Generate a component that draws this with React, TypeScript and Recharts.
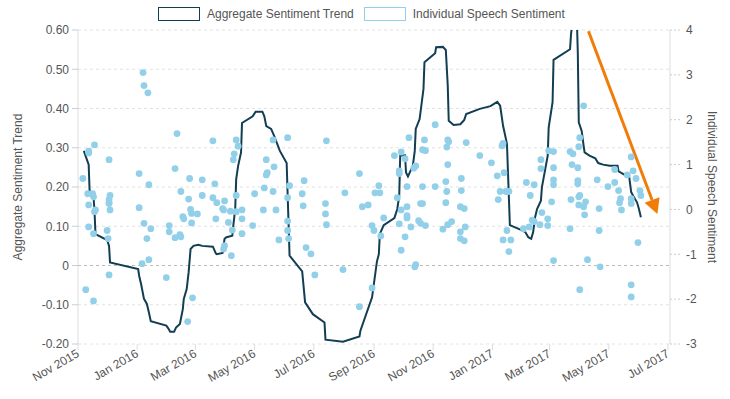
import React from "react";
import { ComposedChart, Line, Scatter, XAxis, YAxis, CartesianGrid, ReferenceLine } from "recharts";

// aggregate trend (left axis)
const trendDates = [
  "2015-11-07", "2015-11-12", "2015-11-13", "2015-11-14", "2015-11-17", "2015-11-18", "2015-11-19", "2015-12-01",
  "2015-12-03", "2015-12-04", "2016-01-02", "2016-01-03", "2016-01-05", "2016-01-08", "2016-01-11", "2016-01-13",
  "2016-01-15", "2016-01-31", "2016-02-02", "2016-02-04", "2016-02-08", "2016-02-10", "2016-02-14", "2016-02-17",
  "2016-02-18", "2016-02-21", "2016-02-23", "2016-02-25", "2016-02-28", "2016-03-04", "2016-03-08", "2016-03-19",
  "2016-03-22", "2016-03-23", "2016-03-29", "2016-03-31", "2016-04-02", "2016-04-08", "2016-04-09", "2016-04-11",
  "2016-04-12", "2016-04-14", "2016-04-17", "2016-04-18", "2016-04-29", "2016-05-02", "2016-05-09", "2016-05-11",
  "2016-05-13", "2016-05-18", "2016-05-21", "2016-05-27", "2016-06-03", "2016-06-06", "2016-06-19", "2016-06-22",
  "2016-06-30", "2016-07-12", "2016-07-13", "2016-07-31", "2016-08-17", "2016-08-18", "2016-08-30", "2016-09-04",
  "2016-09-06", "2016-09-07", "2016-09-11", "2016-09-22", "2016-09-25", "2016-09-27", "2016-09-28", "2016-10-03",
  "2016-10-04", "2016-10-06", "2016-10-11", "2016-10-13", "2016-10-14", "2016-10-18", "2016-10-22", "2016-10-23",
  "2016-11-03", "2016-11-04", "2016-11-11", "2016-11-14", "2016-11-16", "2016-11-17", "2016-11-22", "2016-11-29",
  "2016-12-03", "2016-12-05", "2016-12-19", "2016-12-30", "2017-01-06", "2017-01-09", "2017-01-12", "2017-01-16",
  "2017-01-19", "2017-01-31", "2017-02-04", "2017-02-07", "2017-02-10", "2017-02-12", "2017-02-14", "2017-02-16",
  "2017-02-20", "2017-02-21", "2017-02-27", "2017-02-28", "2017-03-04", "2017-03-05", "2017-03-22", "2017-03-23",
  "2017-03-25", "2017-03-29", "2017-03-30", "2017-03-31", "2017-04-03", "2017-04-05", "2017-04-06", "2017-04-11",
  "2017-04-17", "2017-04-20", "2017-04-25", "2017-05-02", "2017-05-10", "2017-05-11", "2017-05-16", "2017-05-22",
  "2017-05-24", "2017-05-26", "2017-05-30", "2017-06-01", "2017-06-03",
];
const trendValues = [
  0.292, 0.257, 0.187, 0.18, 0.174, 0.14, 0.08, 0.065,
  0.05, 0.008, -0.009, -0.026, -0.047, -0.085, -0.098, -0.119,
  -0.142, -0.153, -0.16, -0.169, -0.169, -0.158, -0.149, -0.111,
  -0.085, -0.06, -0.017, 0.042, 0.05, 0.053, 0.05, 0.048,
  0.031, 0.029, 0.032, 0.068, 0.072, 0.076, 0.101, 0.144,
  0.22, 0.254, 0.288, 0.363, 0.38, 0.392, 0.392, 0.38,
  0.355, 0.348, 0.331, 0.292, 0.261, 0.025, -0.015, -0.094,
  -0.124, -0.145, -0.189, -0.194, -0.181, -0.166, -0.081, 0.01,
  0.029, 0.08, 0.103, 0.121, 0.144, 0.178, 0.28, 0.281,
  0.237, 0.227, 0.254, 0.292, 0.348, 0.373, 0.45, 0.518,
  0.541, 0.556, 0.557, 0.549, 0.458, 0.369, 0.358, 0.36,
  0.371, 0.386, 0.399, 0.406, 0.417, 0.407, 0.356, 0.31,
  0.103, 0.09, 0.085, 0.072, 0.068, 0.085, 0.123, 0.144,
  0.165, 0.199, 0.28, 0.352, 0.416, 0.524, 0.551, 0.589,
  0.63, 0.63, 0.543, 0.365, 0.343, 0.305, 0.288, 0.28,
  0.273, 0.261, 0.257, 0.254, 0.254, 0.24, 0.233, 0.225,
  0.187, 0.178, 0.161, 0.144, 0.123,
];

// individual speeches (right axis)
const speechDates = [
  "2016-01-07", "2016-01-08", "2016-01-12", "2016-02-11", "2015-11-12", "2015-11-12", "2015-11-18", "2015-12-03",
  "2015-11-06", "2016-01-03", "2016-01-13", "2016-02-09", "2016-03-19", "2016-04-12", "2016-04-14", "2016-04-10",
  "2016-04-09", "2016-05-20", "2016-06-04", "2016-05-13", "2016-05-21", "2016-05-14", "2016-05-13", "2016-02-24",
  "2016-03-08", "2016-03-21", "2016-02-15", "2016-02-23", "2016-03-08", "2016-03-19", "2016-03-23", "2016-03-31",
  "2016-03-29", "2016-03-30", "2016-04-06", "2016-04-12", "2016-04-18", "2016-04-12", "2016-05-01", "2016-05-11",
  "2016-05-20", "2016-06-04", "2016-05-10", "2016-05-23", "2015-11-11", "2015-11-16", "2015-11-17", "2015-11-12",
  "2015-11-19", "2015-11-18", "2015-12-04", "2015-12-03", "2015-12-03", "2015-12-03", "2015-12-04", "2016-01-03",
  "2015-11-12", "2015-11-17", "2015-12-01", "2015-12-02", "2016-01-08", "2016-01-15", "2016-01-11", "2016-02-03",
  "2016-02-03", "2016-02-09", "2016-02-14", "2016-02-15", "2016-02-17", "2016-02-18", "2016-02-25", "2016-02-26",
  "2016-02-26", "2016-03-03", "2016-03-22", "2016-04-04", "2016-04-08", "2016-04-18", "2016-04-18", "2016-04-29",
  "2016-03-31", "2016-03-30", "2016-04-07", "2016-05-26", "2016-06-04", "2016-06-05", "2016-01-06", "2016-01-13",
  "2015-12-03", "2016-01-31", "2015-11-09", "2015-11-17", "2016-02-27", "2016-02-22", "2016-06-06", "2016-06-04",
  "2016-07-14", "2016-06-21", "2016-06-19", "2016-06-20", "2016-06-23", "2016-06-28", "2016-07-02", "2016-07-13",
  "2016-07-13", "2016-07-14", "2016-07-31", "2016-08-02", "2016-08-17", "2016-08-20", "2016-08-26", "2016-08-17",
  "2016-08-30", "2016-09-01", "2016-09-02", "2016-09-06", "2016-09-07", "2016-08-30", "2016-09-08", "2016-09-11",
  "2016-09-22", "2016-09-29", "2016-09-27", "2016-09-27", "2016-09-25", "2016-09-27", "2016-09-29", "2016-09-29",
  "2016-10-03", "2016-10-03", "2016-10-05", "2016-10-05", "2016-10-05", "2016-10-05", "2016-10-07", "2016-10-09",
  "2016-10-12", "2016-10-14", "2016-10-13", "2016-10-14", "2016-10-17", "2016-10-19", "2016-10-24", "2016-10-19",
  "2016-10-21", "2016-10-21", "2016-10-21", "2016-10-24", "2016-10-23", "2016-11-03", "2016-11-03", "2016-11-11",
  "2016-11-14", "2016-11-15", "2016-11-14", "2016-11-16", "2016-11-15", "2016-11-16", "2016-11-17", "2016-11-16",
  "2016-11-20", "2016-11-29", "2016-11-29", "2016-12-03", "2016-12-04", "2016-11-29", "2016-12-03", "2016-11-30",
  "2016-11-30", "2016-12-05", "2016-12-19", "2016-12-31", "2017-01-06", "2017-01-13", "2017-01-11", "2017-01-12",
  "2017-01-09", "2017-01-07", "2017-01-15", "2017-01-18", "2017-01-16", "2017-01-12", "2017-01-20", "2017-01-18",
  "2017-02-02", "2017-02-08", "2017-02-05", "2017-02-13", "2017-02-09", "2017-02-11", "2017-02-13", "2017-02-19",
  "2017-02-21", "2017-02-27", "2017-02-27", "2017-02-20", "2017-02-20", "2017-02-28", "2017-03-05", "2017-03-05",
  "2017-03-05", "2017-03-05", "2017-03-03", "2017-03-05", "2017-03-22", "2017-03-25", "2017-03-24", "2017-03-30",
  "2017-03-31", "2017-04-01", "2017-04-05", "2017-03-30", "2017-03-30", "2017-03-23", "2017-04-01", "2017-03-31",
  "2017-03-31", "2017-04-05", "2017-04-07", "2017-04-06", "2017-03-22", "2017-04-09", "2017-04-01", "2017-04-19",
  "2017-04-21", "2017-04-21", "2017-04-22", "2017-04-30", "2017-05-07", "2017-05-07", "2017-05-11", "2017-05-13",
  "2017-05-12", "2017-05-14", "2017-05-20", "2017-05-24", "2017-05-26", "2017-05-29", "2017-06-02", "2017-06-03",
  "2017-05-24", "2017-05-24", "2017-05-31", "2017-05-24", "2017-05-24",
];
const speechScores = [
  3.05, 2.76, 2.6, 1.69, 1.3, 1.26, 1.44, 1.11,
  0.69, 0.8, 0.55, 0.91, 1.53, 1.55, 1.41, 1.24,
  1.11, 1.55, 1.6, 1.11, 0.95, 0.82, 0.77, 0.69,
  0.66, 0.57, 0.4, 0.23, 0.31, 0.26, 0.15, 0.19,
  0.02, -0.01, -0.04, -0.05, -0.01, 0.31, 0.35, 0.48,
  0.4, 0.26, -0.01, -0.01, 0.35, 0.35, 0.28, 0.1,
  -0.01, -0.05, 0.31, 0.22, 0.15, 0.13, -0.01, 0.04,
  -0.39, -0.54, -0.47, -0.65, -0.31, -0.43, -0.65, -0.36,
  -0.5, -0.63, -0.56, -0.61, -0.16, -0.21, 0.0, -0.09,
  -0.3, -0.1, -0.21, -0.29, -0.46, -0.21, -0.54, -0.36,
  -0.81, -0.88, -1.03, -0.68, -0.47, -0.65, -1.21, -1.12,
  -1.46, -1.52, -1.79, -2.04, -1.97, -2.5, 0.53, -0.26,
  1.53, 0.64, 0.35, 0.08, -0.85, -0.99, -1.46, 0.13,
  -0.1, -0.34, -1.34, 0.37, 0.8, 0.06, 0.1, -2.17,
  -0.36, -0.47, 0.37, 0.53, 0.37, -1.75, -0.59, -0.19,
  1.2, 1.28, 0.8, 0.86, 0.26, -0.32, -0.01, -0.91,
  -0.61, 1.13, 0.51, 0.06, -0.14, -0.19, 1.6, -0.39,
  0.92, 0.97, -1.28, -1.23, -0.25, -0.31, -0.36, 0.13,
  0.13, 0.51, 1.33, 1.31, 1.55, 1.89, 0.51, -0.44,
  0.15, 0.4, 0.62, 1.0, 1.39, 1.55, 1.51, -0.34,
  -0.27, -0.5, -0.65, -0.7, -0.39, 0.06, 0.02, 0.42,
  0.69, 1.49, 1.2, 1.04, 0.75, 0.82, 1.42, 1.47,
  0.4, 0.22, 0.4, 0.4, -0.47, -0.68, -0.68, -0.94,
  -0.43, -0.39, 0.6, 0.55, 0.31, -0.24, -0.27, -0.34,
  -0.07, -0.21, -0.36, 1.11, 0.91, 1.31, 1.29, 0.93,
  0.66, 0.55, 0.17, -1.14, 1.29, 1.24, 1.0, 0.93,
  1.4, 1.6, 2.31, 0.64, 0.57, 0.22, 0.31, 0.28,
  0.1, 0.06, 0.17, -0.12, -0.43, -1.12, -1.79, 0.66,
  0.02, -0.47, -1.28, 0.51, 0.6, 0.89, 0.42, 0.24,
  0.15, -0.01, 0.77, 1.17, 0.86, 0.69, 0.42, 0.31,
  0.24, 0.13, -0.74, -1.68, -1.95,
];

const xTickDates = [
  "2015-11-01", "2016-01-01", "2016-03-01", "2016-05-01", "2016-07-01", "2016-09-01",
  "2016-11-01", "2017-01-01", "2017-03-01", "2017-05-01", "2017-07-01",
];
const leftTicks = [-0.2, -0.1, 0, 0.1, 0.2, 0.3, 0.4, 0.5, 0.6];
const rightTicks = [-3, -2, -1, 0, 1, 2, 3, 4];
const MONTHS = ["Jan", "Feb", "Mar", "Apr", "May", "Jun", "Jul", "Aug", "Sep", "Oct", "Nov", "Dec"];

// orange annotation arrow (left axis units)
const arrowStart = { date: "2017-04-10", value: 0.597 };
const arrowEnd = { date: "2017-06-20", value: 0.131 };

const ts = (d: string) => new Date(d + "T00:00:00Z").getTime();

const trendData = trendDates.map((d, i) => ({ t: ts(d), v: trendValues[i] }));
const speechData = speechDates.map((d, i) => ({ t: ts(d), s: speechScores[i] }));
const xTicks = xTickDates.map(ts);

const FONT = '"Liberation Sans", Arial, Helvetica, sans-serif';
const NAVY = "#123e54";
const SKY = "#92d0ea";
const ORANGE = "#f07d0a";

function DateTick(props: any) {
  const { x, y, payload } = props;
  const d = new Date(payload.value);
  const label = `${MONTHS[d.getUTCMonth()]} ${d.getUTCFullYear()}`;
  const ax = x + 2;
  const ay = y + 4;
  return (
    <text x={ax} y={ay} transform={`rotate(-30, ${ax}, ${ay})`} textAnchor="end" fill="#555" fontSize={12} fontFamily={FONT}>
      {label}
    </text>
  );
}

function Arrow(props: any) {
  const { x1, y1, x2, y2 } = props;
  if ([x1, y1, x2, y2].some((v) => typeof v !== "number" || isNaN(v))) return null;
  const dx = x2 - x1;
  const dy = y2 - y1;
  const len = Math.sqrt(dx * dx + dy * dy);
  const ux = dx / len;
  const uy = dy / len;
  const head = 15;
  const half = 8;
  const bx = x2 - ux * head;
  const by = y2 - uy * head;
  return (
    <g>
      <line x1={x1} y1={y1} x2={bx} y2={by} stroke={ORANGE} strokeWidth={3} />
      <polygon
        points={`${x2},${y2} ${bx - uy * half},${by + ux * half} ${bx + uy * half},${by - ux * half}`}
        fill={ORANGE}
      />
    </g>
  );
}

function LegendBox({ color, label }: { color: string; label: string }) {
  return (
    <div style={{ display: "flex", alignItems: "center", marginRight: 10 }}>
      <span style={{ display: "inline-block", boxSizing: "border-box", width: 42, height: 14, border: `1.5px solid ${color}` }} />
      <span style={{ marginLeft: 7 }}>{label}</span>
    </div>
  );
}

export default function App() {
  return (
    <div style={{ position: "absolute", left: 0, top: 0, width: 730, height: 399, fontFamily: FONT, background: "#fff" }}>
      <div style={{ position: "absolute", left: 158, top: 6, display: "flex", fontSize: 12, color: "#555", lineHeight: "16px" }}>
        <LegendBox color={NAVY} label="Aggregate Sentiment Trend" />
        <LegendBox color={SKY} label="Individual Speech Sentiment" />
      </div>
      <ComposedChart width={730} height={399} margin={{ top: 30, right: 0, bottom: 5, left: 0 }}>
        <CartesianGrid yAxisId="left" vertical={false} strokeDasharray="3 3" stroke="#e2e2e2" />
        <XAxis
          dataKey="t"
          type="number"
          domain={[ts("2015-11-01"), ts("2017-07-03")]}
          ticks={xTicks}
          height={50}
          axisLine={false}
          tickLine={{ stroke: "#ddd" }}
          tickSize={6}
          tick={<DateTick />}
          interval={0}
          allowDataOverflow
        />
        <YAxis
          yAxisId="left"
          orientation="left"
          width={78}
          domain={[-0.2, 0.6]}
          ticks={leftTicks}
          allowDataOverflow
          tickFormatter={(v: number) => (v === 0 ? "0" : v.toFixed(2))}
          axisLine={{ stroke: "#ddd" }}
          tickLine={{ stroke: "#ccc" }}
          tickSize={6}
          tickMargin={3}
          tick={{ fill: "#555", fontSize: 12, fontFamily: FONT }}
          label={{ value: "Aggregate Sentiment Trend", angle: -90, position: "insideLeft", offset: 18, style: { textAnchor: "middle", fill: "#555", fontSize: 12, fontFamily: FONT } }}
        />
        <YAxis
          yAxisId="right"
          orientation="right"
          dataKey="s"
          width={60}
          domain={[-3, 4]}
          ticks={rightTicks}
          allowDataOverflow
          axisLine={{ stroke: "#ddd" }}
          tickLine={{ stroke: "#ccc", strokeDasharray: "2 2" }}
          tickSize={10}
          tickMargin={6}
          tick={{ fill: "#555", fontSize: 12, fontFamily: FONT }}
          label={{ value: "Individual Speech Sentiment", angle: 90, position: "insideRight", offset: 18, style: { textAnchor: "middle", fill: "#555", fontSize: 12, fontFamily: FONT } }}
        />
        <ReferenceLine yAxisId="left" y={0} stroke="#bbb" strokeDasharray="3 3" />
        <Scatter
          yAxisId="right"
          data={speechData}
          dataKey="s"
          isAnimationActive={false}
          shape={(p: any) => <circle cx={p.cx} cy={p.cy} r={3.4} fill={SKY} />}
        />
        <Line
          yAxisId="left"
          data={trendData}
          dataKey="v"
          type="linear"
          stroke={NAVY}
          strokeWidth={2}
          dot={false}
          activeDot={false}
          isAnimationActive={false}
        />
        <ReferenceLine
          yAxisId="left"
          segment={[
            { x: ts(arrowStart.date), y: arrowStart.value },
            { x: ts(arrowEnd.date), y: arrowEnd.value },
          ]}
          shape={<Arrow />}
        />
      </ComposedChart>
    </div>
  );
}
